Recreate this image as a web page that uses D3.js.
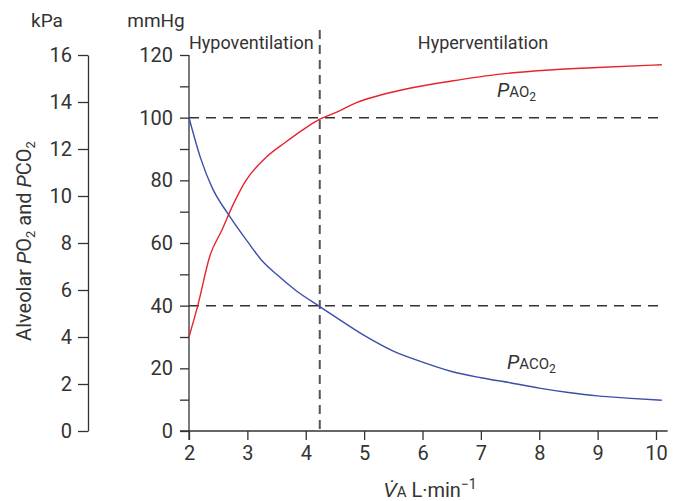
<!DOCTYPE html>
<html>
<head>
<meta charset="utf-8">
<script src="https://cdn.jsdelivr.net/npm/d3@7"></script>
<style>
  html, body { margin: 0; padding: 0; background: #fff; }
  svg text { font-family: "Liberation Sans Narrow", Roboto, sans-serif; fill: #333; }
</style>
</head>
<body>
<svg id="chart" width="681" height="501"></svg>
<script>
// ---- data ----
const xTicks = [2, 3, 4, 5, 6, 7, 8, 9, 10];
const mmHgTicks = [0, 20, 40, 60, 80, 100, 120];
const kPaTicks = [0, 2, 4, 6, 8, 10, 12, 14, 16];
const refPressures = [100, 40];
const refVentilation = 4.24;

const vaPAO2 = [2.0, 2.15, 2.36, 2.56, 2.75, 2.96, 3.33, 3.64, 4.02, 4.24, 4.5, 4.87, 5.3, 5.78, 6.5, 7.33, 8.18, 9.0, 10.1];
const PAO2   = [30, 40, 56, 64, 72, 79.5, 87.5, 92, 97, 99.5, 101.5, 104.8, 107.3, 109.4, 111.7, 113.9, 115.2, 116.0, 116.9];

const vaPACO2 = [2.0, 2.2, 2.4, 2.66, 3.0, 3.24, 3.5, 3.82, 4.24, 4.5, 5.0, 5.5, 6.0, 6.5, 7.0, 7.5, 8.0, 8.5, 9.0, 9.5, 10.1];
const PACO2   = [100, 87, 77.5, 69.5, 60.5, 54.6, 50, 45, 39.7, 36.5, 30.5, 25.5, 22, 19, 17, 15.4, 13.7, 12.3, 11.2, 10.5, 9.8];

// ---- layout ----
const svg = d3.select("#chart");
const x = d3.scaleLinear().domain([2, 10]).range([189, 656]);
const y = d3.scaleLinear().domain([0, 120]).range([431, 55]);
const yk = d3.scaleLinear().domain([0, 16]).range([431, 55]);
const axisColor = "#333";
const fs = 20;

// kPa axis
const gk = svg.append("g").attr("transform", "translate(88,0)")
  .call(d3.axisLeft(yk).tickValues(kPaTicks).tickSize(10).tickPadding(6).tickSizeOuter(0));
gk.select(".domain").attr("stroke", axisColor).attr("stroke-width", 1.3);
gk.selectAll(".tick line").attr("stroke", axisColor).attr("stroke-width", 1.3);
gk.selectAll(".tick text").style("font-size", fs + "px").attr("fill", "#333");

// mmHg axis
const gm = svg.append("g").attr("transform", "translate(189,0)")
  .call(d3.axisLeft(y).tickValues(d3.range(0, 121, 10)).tickSize(9).tickPadding(7)
    .tickFormat(d => d % 20 === 0 ? d : ""));
gm.select(".domain").remove();
gm.selectAll(".tick line").attr("stroke", axisColor).attr("stroke-width", 1.3);
gm.selectAll(".tick text").style("font-size", fs + "px").attr("fill", "#333");
svg.append("line").attr("x1", 189).attr("x2", 189).attr("y1", y(120)).attr("y2", y(0) + 9)
  .attr("stroke", axisColor).attr("stroke-width", 1.3);

// x axis
const gx = svg.append("g").attr("transform", "translate(0,431)")
  .call(d3.axisBottom(x).tickValues(xTicks).tickSize(9).tickPadding(6));
gx.select(".domain").remove();
gx.selectAll(".tick line").attr("stroke", axisColor).attr("stroke-width", 1.3);
gx.selectAll(".tick text").style("font-size", fs + "px").attr("fill", "#333");
svg.append("line").attr("x1", x(2) - 9).attr("x2", x(10.2)).attr("y1", y(0)).attr("y2", y(0))
  .attr("stroke", axisColor).attr("stroke-width", 1.3);

// reference dashed lines
refPressures.forEach(p => {
  svg.append("line").attr("x1", x(2)).attr("x2", x(10.13)).attr("y1", y(p)).attr("y2", y(p))
    .attr("stroke", "#333").attr("stroke-width", 1.5).attr("stroke-dasharray", "10,7");
});
svg.append("line").attr("x1", x(refVentilation)).attr("x2", x(refVentilation))
  .attr("y1", 30).attr("y2", y(0))
  .attr("stroke", "#555").attr("stroke-width", 2).attr("stroke-dasharray", "9,6");

// curves
const line = d3.line().x(d => x(d[0])).y(d => y(d[1])).curve(d3.curveMonotoneX);
svg.append("path").datum(d3.zip(vaPAO2, PAO2)).attr("d", line)
  .attr("fill", "none").attr("stroke", "#e8232d").attr("stroke-width", 1.4);
svg.append("path").datum(d3.zip(vaPACO2, PACO2)).attr("d", line)
  .attr("fill", "none").attr("stroke", "#3b4fa8").attr("stroke-width", 1.4);

// unit labels
svg.append("text").attr("x", 47).attr("y", 27).attr("text-anchor", "middle").style("font-size", "19px").text("kPa");
svg.append("text").attr("x", 156).attr("y", 27).attr("text-anchor", "middle").style("font-size", "19px").text("mmHg");

// region labels
svg.append("text").attr("x", 189).attr("y", 49).style("font-size", "18px").text("Hypoventilation");
svg.append("text").attr("x", 483).attr("y", 49).attr("text-anchor", "middle").style("font-size", "18px").text("Hyperventilation");

// curve labels
function pLabel(xp, yp, sub) {
  const t = svg.append("text").attr("x", xp).attr("y", yp).style("font-size", "20px");
  t.append("tspan").style("font-style", "italic").text("P");
  t.append("tspan").style("font-size", "15px").text(sub);
  t.append("tspan").style("font-size", "12px").attr("dy", 4).text("2");
}
pLabel(497, 97, "AO");
pLabel(507, 369, "ACO");

// y title
const yt = svg.append("text").attr("transform", "translate(31,241) rotate(-90)")
  .attr("text-anchor", "middle").style("font-size", "20px");
yt.append("tspan").text("Alveolar ");
yt.append("tspan").style("font-style", "italic").text("P");
yt.append("tspan").text("O");
yt.append("tspan").style("font-size", "13px").attr("dy", 4).text("2");
yt.append("tspan").attr("dy", -4).text(" and ");
yt.append("tspan").style("font-style", "italic").text("P");
yt.append("tspan").text("CO");
yt.append("tspan").style("font-size", "13px").attr("dy", 4).text("2");

// x title
const xt = svg.append("text").attr("x", 430).attr("y", 497).attr("text-anchor", "middle").style("font-size", "20px");
xt.append("tspan").style("font-style", "italic").text("V\u0307");
xt.append("tspan").style("font-size", "15px").text("A");
xt.append("tspan").text(" L\u00b7min");
xt.append("tspan").style("font-size", "14px").attr("dy", -8).text("\u22121");
</script>
</body>
</html>
